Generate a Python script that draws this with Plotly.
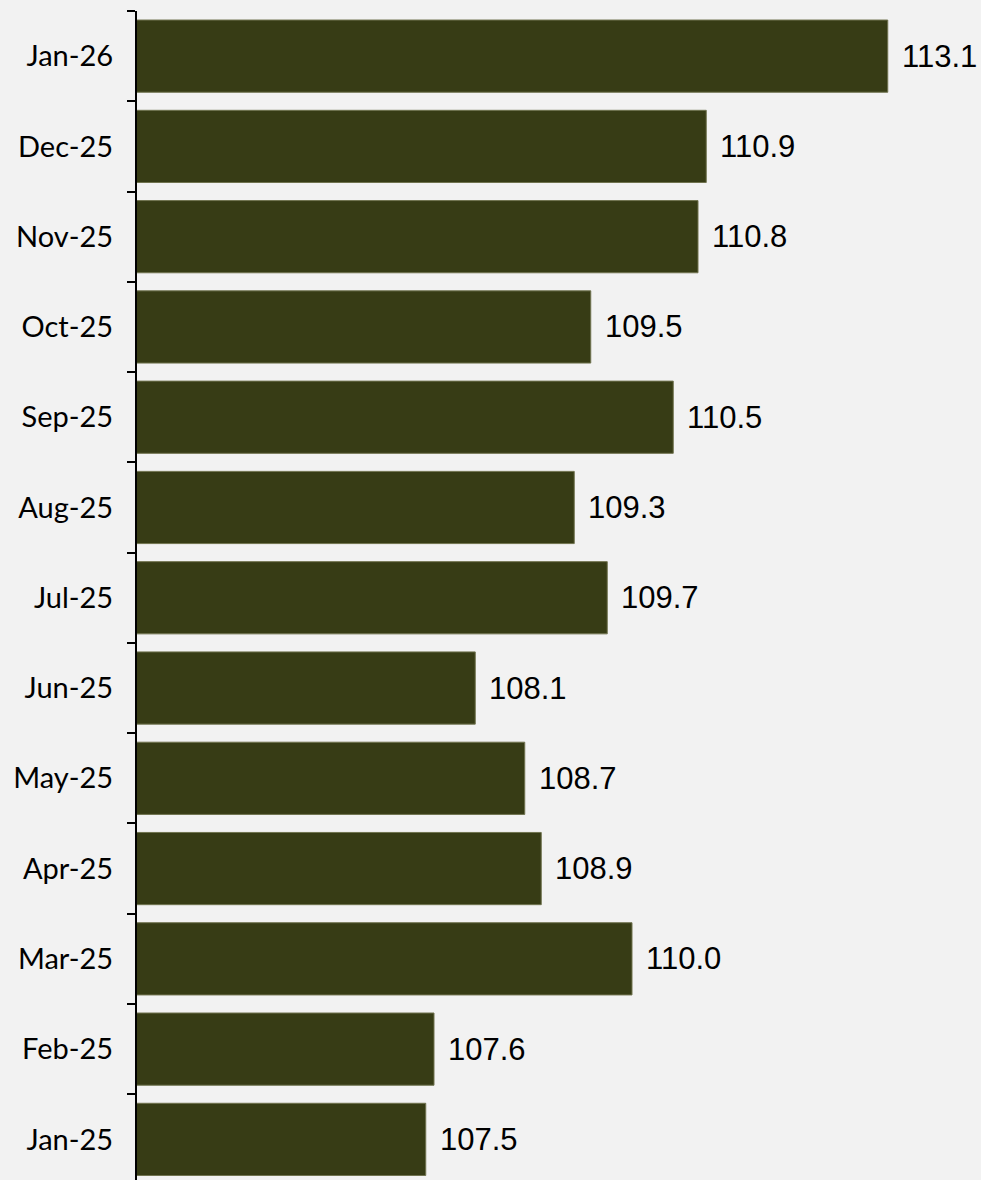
import plotly.graph_objects as go

months = ["Jan-25", "Feb-25", "Mar-25", "Apr-25", "May-25", "Jun-25", "Jul-25",
          "Aug-25", "Sep-25", "Oct-25", "Nov-25", "Dec-25", "Jan-26"]
values = [107.5, 107.6, 110.0, 108.9, 108.7, 108.1, 109.7,
          109.3, 110.5, 109.5, 110.8, 110.9, 113.1]

BAR = "#373c15"
BG = "#f2f2f2"

fig = go.Figure()
fig.add_trace(go.Bar(
    x=values, y=months, orientation="h",
    marker=dict(color=BAR, line=dict(color="#70734f", width=1)),
    hoverinfo="skip",
))

for m, v in zip(months, values):
    fig.add_annotation(x=v, y=m, text=f"{v:.1f}", showarrow=False,
                       xanchor="left", yanchor="middle", xshift=12,
                       font=dict(family="Liberation Sans, Arial", size=31, color="black"))

fig.update_layout(
    width=981, height=1180,
    margin=dict(l=137, r=18.5, t=11, b=0),
    paper_bgcolor=BG, plot_bgcolor=BG,
    bargap=0.2, showlegend=False,
    xaxis=dict(range=[104, 114], visible=False, showgrid=False, zeroline=False),
    yaxis=dict(
        type="category", categoryorder="array", categoryarray=months,
        range=[-0.45, 12.5],
        showline=True, linecolor="black", linewidth=2,
        ticks="outside", ticklen=8, tickwidth=2, tickcolor="black",
        tickson="boundaries", showgrid=False, ticklabelstandoff=16,
        tickfont=dict(family="Lato, Noto Sans", size=29, color="black"),
    ),
)

fig.write_html("out.html")
